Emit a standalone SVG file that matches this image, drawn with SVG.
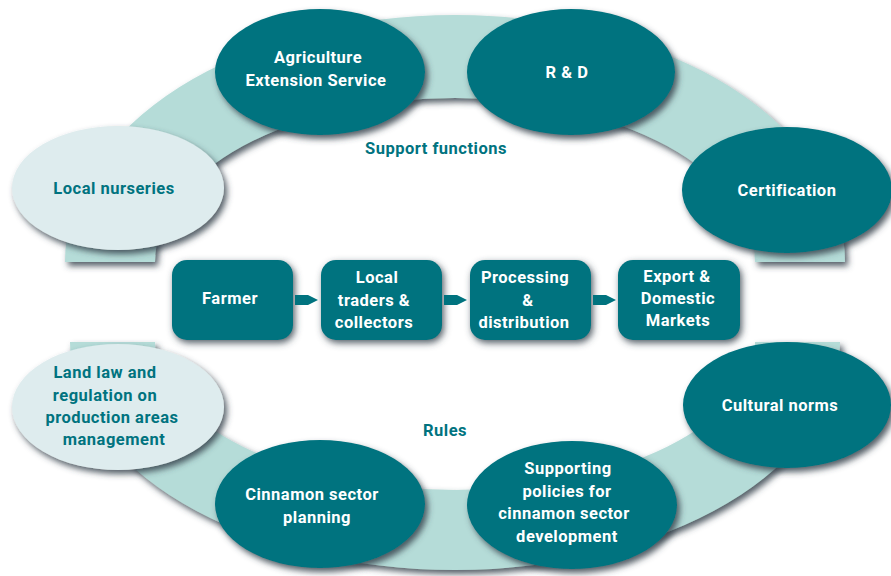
<svg xmlns="http://www.w3.org/2000/svg" width="891" height="576" viewBox="0 0 891 576">
<defs>
<filter id="sh" x="-20%" y="-20%" width="140%" height="150%">
<feDropShadow dx="3" dy="4" stdDeviation="3" flood-color="#34424d" flood-opacity="0.85"/>
</filter>
<filter id="shb" x="-20%" y="-20%" width="140%" height="150%">
<feDropShadow dx="2" dy="3" stdDeviation="3.5" flood-color="#34424d" flood-opacity="0.85"/>
</filter>
<marker id="ar" viewBox="0 0 10 10" refX="0" refY="5" markerWidth="10" markerHeight="10" markerUnits="userSpaceOnUse" orient="auto">
<path d="M0,0 L10,5 L0,10 Z" fill="#00737f"/>
</marker>
</defs>
<style>
.band{fill:#b5dcd8;filter:url(#sh)}
.dk{fill:#00737f;filter:url(#sh)}
.lt{fill:#deecee;filter:url(#sh)}
.box{fill:#00737f;filter:url(#shb)}
text{font-family:Roboto,"Liberation Sans",Arial,sans-serif;font-weight:bold;font-size:16.5px;letter-spacing:0.5px;text-anchor:middle}
.w{fill:#ffffff}
.t{fill:#00737f}
.arrow{stroke:#00737f;stroke-width:10;fill:none}
</style>
<g id="support-ring">
<path class="band" d="M65,262 A390,247 0 0 1 845,262 L755,262 A300,164 0 0 0 155,262 Z"/>
<text class="t" x="436" y="154">Support functions</text>
</g>
<g id="rules-ring">
<path class="band" d="M70,342 A385,228 0 0 0 840,342 L755,342 A300,148 0 0 1 155,342 Z"/>
<text class="t" x="445" y="436">Rules</text>
</g>
<g id="agriculture-extension">
<ellipse class="dk" cx="320" cy="72" rx="105" ry="63"/>
<text class="w" x="318" y="63">Agriculture</text>
<text class="w" x="316" y="86">Extension Service</text>
</g>
<g id="rnd">
<ellipse class="dk" cx="571" cy="72" rx="104" ry="63"/>
<text class="w" x="567" y="78">R &amp; D</text>
</g>
<g id="local-nurseries">
<ellipse class="lt" cx="118" cy="188" rx="106" ry="62"/>
<text class="t" x="114" y="194">Local nurseries</text>
</g>
<g id="certification">
<ellipse class="dk" cx="787" cy="190" rx="105" ry="63"/>
<text class="w" x="787" y="196">Certification</text>
</g>
<g id="land-law">
<ellipse class="lt" cx="118" cy="407" rx="106" ry="63"/>
<text class="t" x="105" y="378">Land law and</text>
<text class="t" x="105" y="401">regulation on</text>
<text class="t" x="112" y="423">production areas</text>
<text class="t" x="114" y="445">management</text>
</g>
<g id="cultural-norms">
<ellipse class="dk" cx="787" cy="405" rx="104" ry="63"/>
<text class="w" x="780" y="411">Cultural norms</text>
</g>
<g id="cinnamon-planning">
<ellipse class="dk" cx="320" cy="504" rx="105" ry="64"/>
<text class="w" x="312" y="500">Cinnamon sector</text>
<text class="w" x="317" y="523">planning</text>
</g>
<g id="supporting-policies">
<ellipse class="dk" cx="572" cy="505" rx="105" ry="64"/>
<text class="w" x="568" y="474">Supporting</text>
<text class="w" x="567" y="497">policies for</text>
<text class="w" x="564" y="519">cinnamon sector</text>
<text class="w" x="567" y="542">development</text>
</g>
<g id="farmer">
<rect class="box" x="172" y="260" width="121" height="80" rx="15"/>
<text class="w" x="230" y="304">Farmer</text>
</g>
<g id="local-traders">
<rect class="box" x="321" y="260" width="121" height="80" rx="15"/>
<text class="w" x="377" y="283">Local</text>
<text class="w" x="374" y="306">traders &amp;</text>
<text class="w" x="374" y="328">collectors</text>
</g>
<g id="processing">
<rect class="box" x="470" y="260" width="121" height="80" rx="15"/>
<text class="w" x="525" y="283">Processing</text>
<text class="w" x="528" y="306">&amp;</text>
<text class="w" x="524" y="328">distribution</text>
</g>
<g id="export">
<rect class="box" x="618" y="260" width="122" height="80" rx="15"/>
<text class="w" x="677" y="282">Export &amp;</text>
<text class="w" x="678" y="304">Domestic</text>
<text class="w" x="678" y="326">Markets</text>
</g>
<g id="connectors">
<path class="arrow" d="M295,300 H308" marker-end="url(#ar)"/>
<path class="arrow" d="M444,300 H457" marker-end="url(#ar)"/>
<path class="arrow" d="M593,300 H606" marker-end="url(#ar)"/>
</g>
</svg>
